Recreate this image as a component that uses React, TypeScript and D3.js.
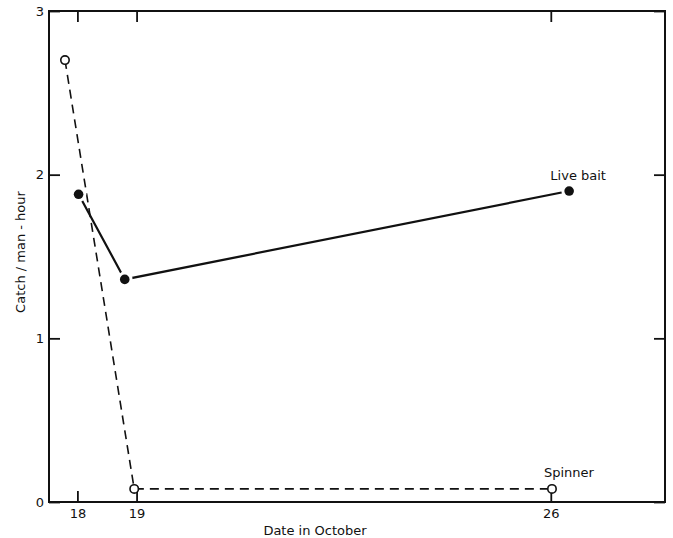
import React, { useEffect, useRef } from 'react';
import * as d3 from 'd3';

// days in October that carry a tick
const dayTicks = [18, 19, 26];
const catchTicks = [0, 1, 2, 3];

// live bait (filled dots)
const liveBaitDates = [18.02, 18.8, 26.31];
const liveBaitCatch = [1.88, 1.36, 1.9];

// spinner (open dots, dashed)
const spinnerDates = [17.79, 18.96, 26.02];
const spinnerCatch = [2.7, 0.08, 0.08];

const W = 673;
const H = 538;
const margin = { top: 11, right: 8, bottom: 36, left: 49 };
const FONT = '"DejaVu Sans", Verdana, sans-serif';

export default function App() {
  const ref = useRef(null);

  useEffect(() => {
    const root = d3.select(ref.current);
    root.selectAll('*').remove();

    const width = W - margin.left - margin.right;
    const height = H - margin.top - margin.bottom;

    const svg = root
      .append('g')
      .attr('transform', `translate(${margin.left},${margin.top})`);

    const x = d3.scaleLinear().domain([17.52, 27.93]).range([0, width]);
    const y = d3.scaleLinear().domain([0, 3]).range([height, 0]);

    // frame
    svg.append('rect')
      .attr('width', width)
      .attr('height', height)
      .attr('fill', 'none')
      .attr('stroke', '#111')
      .attr('stroke-width', 2);

    const styleAxis = (g) => {
      g.select('.domain').remove();
      g.selectAll('line').attr('stroke', '#111').attr('stroke-width', 1.8);
      g.selectAll('text')
        .attr('fill', '#111')
        .style('font-family', FONT)
        .style('font-size', '13px');
    };

    // bottom axis, ticks inward
    svg.append('g')
      .attr('transform', `translate(0,${height})`)
      .call(d3.axisBottom(x).tickValues(dayTicks).tickSize(-11).tickPadding(7).tickFormat(d3.format('d')))
      .call(styleAxis);

    // top axis, ticks only
    svg.append('g')
      .call(d3.axisTop(x).tickValues(dayTicks).tickSize(-11).tickFormat(() => ''))
      .call(styleAxis);

    // left axis
    svg.append('g')
      .call(d3.axisLeft(y).tickValues(catchTicks).tickSize(-11).tickPadding(5).tickFormat(d3.format('d')))
      .call(styleAxis);

    // right axis, ticks only
    svg.append('g')
      .attr('transform', `translate(${width},0)`)
      .call(d3.axisRight(y).tickValues(catchTicks).tickSize(-11).tickFormat(() => ''))
      .call(styleAxis);

    const line = d3.line().x((d) => x(d[0])).y((d) => y(d[1]));

    const live = liveBaitDates.map((d, i) => [d, liveBaitCatch[i]]);
    const spin = spinnerDates.map((d, i) => [d, spinnerCatch[i]]);

    svg.append('path')
      .datum(spin)
      .attr('d', line)
      .attr('fill', 'none')
      .attr('stroke', '#111')
      .attr('stroke-width', 1.6)
      .attr('stroke-dasharray', '9,6');

    svg.append('path')
      .datum(live)
      .attr('d', line)
      .attr('fill', 'none')
      .attr('stroke', '#111')
      .attr('stroke-width', 2.2);

    // filled dots with a white halo to leave a gap in the line
    svg.selectAll('.live')
      .data(live)
      .join('circle')
      .attr('class', 'live')
      .attr('cx', (d) => x(d[0]))
      .attr('cy', (d) => y(d[1]))
      .attr('r', 4.8)
      .attr('fill', '#111')
      .attr('stroke', '#fff')
      .attr('stroke-width', 6)
      .attr('paint-order', 'stroke');

    svg.selectAll('.spin')
      .data(spin)
      .join('circle')
      .attr('class', 'spin')
      .attr('cx', (d) => x(d[0]))
      .attr('cy', (d) => y(d[1]))
      .attr('r', 4.2)
      .attr('fill', '#fff')
      .attr('stroke', '#111')
      .attr('stroke-width', 1.6);

    // series labels
    svg.append('text')
      .attr('x', x(26.31) + 9)
      .attr('y', y(1.9) - 11)
      .attr('text-anchor', 'middle')
      .style('font-family', FONT)
      .style('font-size', '13px')
      .attr('fill', '#111')
      .text('Live bait');

    svg.append('text')
      .attr('x', x(26.02) + 17)
      .attr('y', y(0.08) - 12)
      .attr('text-anchor', 'middle')
      .style('font-family', FONT)
      .style('font-size', '13px')
      .attr('fill', '#111')
      .text('Spinner');

    // axis titles
    svg.append('text')
      .attr('x', 266)
      .attr('y', height + 33)
      .attr('text-anchor', 'middle')
      .style('font-family', FONT)
      .style('font-size', '13px')
      .attr('fill', '#111')
      .text('Date in October');

    svg.append('text')
      .attr('transform', 'rotate(-90)')
      .attr('x', -(252 - margin.top))
      .attr('y', -24)
      .attr('text-anchor', 'middle')
      .style('font-family', FONT)
      .style('font-size', '13px')
      .attr('fill', '#111')
      .text('Catch / man - hour');
  }, []);

  return (
    <svg
      ref={ref}
      width={W}
      height={H}
      style={{ position: 'absolute', left: 0, top: 0, background: '#fff' }}
    />
  );
}
